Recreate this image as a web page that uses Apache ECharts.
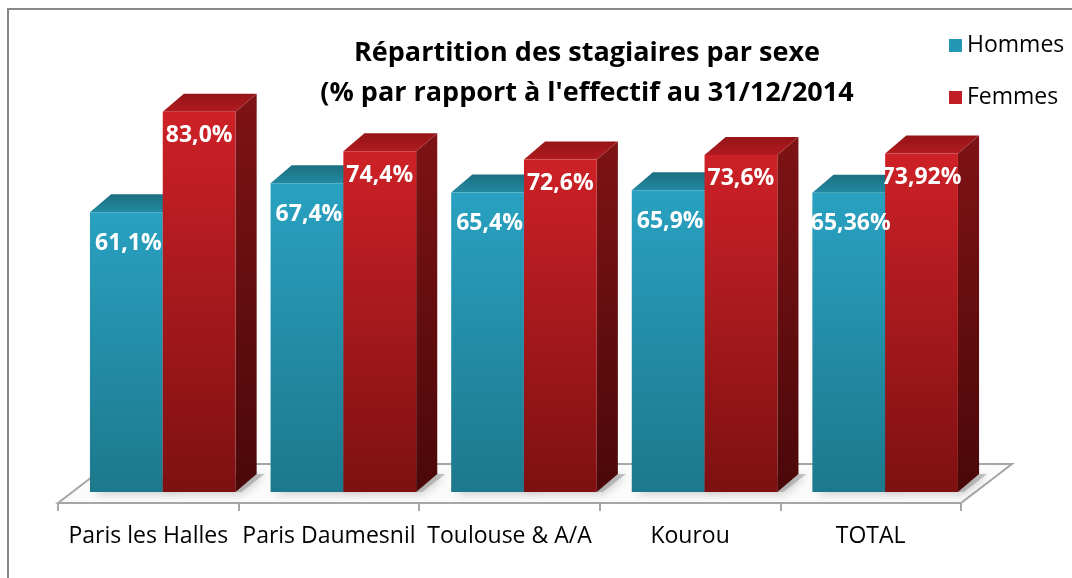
<!DOCTYPE html>
<html>
<head>
<meta charset="utf-8">
<script src="https://cdn.jsdelivr.net/npm/echarts@6/dist/echarts.min.js"></script>
<style>html,body{margin:0;padding:0;background:#fff;}#c{width:1072px;height:578px;}</style>
</head>
<body>
<div id="c"></div>
<script>
var categories = ['Paris les Halles', 'Paris Daumesnil', 'Toulouse & A/A', 'Kourou', 'TOTAL'];
var hommes = [61.1, 67.4, 65.4, 65.9, 65.36];
var femmes = [83.0, 74.4, 72.6, 73.6, 73.92];
var hommesLabels = ['61,1%', '67,4%', '65,4%', '65,9%', '65,36%'];
var femmesLabels = ['83,0%', '74,4%', '72,6%', '73,6%', '73,92%'];
var titleLines = ['Répartition des stagiaires par sexe', "(% par rapport à l'effectif au 31/12/2014"];

var FONT = '"Open Sans", Lato, sans-serif';

var styles = {
  h: {
    front: new echarts.graphic.LinearGradient(0, 0, 0, 1, [{offset: 0, color: '#29a1c1'}, {offset: 1, color: '#1d788c'}]),
    top: new echarts.graphic.LinearGradient(0, 1, 0, 0, [{offset: 0, color: '#2389a1'}, {offset: 1, color: '#1b6f80'}]),
    side: new echarts.graphic.LinearGradient(0, 0, 0, 1, [{offset: 0, color: '#186a7b'}, {offset: 1, color: '#0f4853'}]),
    labels: hommesLabels, lx0: -0.323, lx1: 0.080, textOff: 31, textDx: 2
  },
  f: {
    front: new echarts.graphic.LinearGradient(0, 0, 0, 1, [{offset: 0, color: '#cd2127'}, {offset: 1, color: '#7d1012'}]),
    top: new echarts.graphic.LinearGradient(0, 1, 0, 0, [{offset: 0, color: '#b01b1f'}, {offset: 1, color: '#951417'}]),
    side: new echarts.graphic.LinearGradient(0, 0, 0, 1, [{offset: 0, color: '#7e1315'}, {offset: 1, color: '#4a0809'}]),
    labels: femmesLabels, lx0: 0.080, lx1: 0.483, textOff: 24, textDx: 0
  }
};

function barRender(kind) {
  var s = styles[kind];
  return function (params, api) {
    var i = api.value(0), v = api.value(1);
    var c = api.coord([i, v]);
    var base = api.coord([i, 0]);
    var W = api.size([1, 0])[0];
    var x0 = c[0] + s.lx0 * W, x1 = c[0] + s.lx1 * W;
    var yt = c[1], yb = base[1];
    var dx = 0.117 * W, dy = 0.0997 * W;
    return {
      type: 'group',
      children: [
        {type: 'polygon', z2: -5, shape: {points: [[x0 + 4, yb], [x1 + 6, yb], [x1 + dx + 8, yb - dy], [x0 + dx, yb - dy]]},
          style: {fill: 'rgba(150,150,150,0.55)', shadowBlur: 10, shadowColor: 'rgba(0,0,0,0.35)', shadowOffsetY: 2}},
        {type: 'polygon', shape: {points: [[x1, yb], [x1 + dx, yb - dy], [x1 + dx, yt - dy], [x1, yt]]}, style: {fill: s.side}},
        {type: 'polygon', shape: {points: [[x0, yt], [x1, yt], [x1 + dx, yt - dy], [x0 + dx, yt - dy]]}, style: {fill: s.top}},
        {type: 'rect', shape: {x: x0, y: yt, width: x1 - x0, height: yb - yt}, style: {fill: s.front}},
        {type: 'text', z2: 100, x: (x0 + x1) / 2 + s.textDx, y: yt + s.textOff,
          style: {text: s.labels[params.dataIndex], fill: '#ffffff', font: 'bold 23px ' + FONT, align: 'center', verticalAlign: 'middle'}}
      ]
    };
  };
}

function floorRender(params, api) {
  var cs = params.coordSys;
  var yf = cs.y + cs.height + 11;
  var xl = cs.x, xr = cs.x + cs.width;
  var dx = 51, dy = 39;
  return {
    type: 'polygon',
    shape: {points: [[xl, yf], [xr, yf], [xr + dx, yf - dy], [xl + dx, yf - dy]]},
    style: {fill: '#fbfbfb', stroke: '#a6a6a6', lineWidth: 2}
  };
}

var chart = echarts.init(document.getElementById('c'), null, {renderer: 'canvas'});
chart.setOption({
  backgroundColor: '#ffffff',
  animation: false,
  title: {
    text: titleLines.join('\n'),
    left: 582, top: 28, textAlign: 'center',
    textStyle: {fontFamily: FONT, fontWeight: 'bold', fontSize: 27, lineHeight: 40, color: '#000'}
  },
  legend: {
    orient: 'vertical', left: 944, top: 29, itemWidth: 13, itemHeight: 13, itemGap: 29,
    icon: 'rect',
    textStyle: {fontFamily: FONT, fontSize: 23, color: '#000'},
    data: ['Hommes', 'Femmes']
  },
  graphic: [{type: 'rect', shape: {x: 8, y: 9, width: 1200, height: 700}, style: {fill: 'none', stroke: '#878787', lineWidth: 2}, z: -10}],
  grid: [
    {left: 58, right: 111, top: 34, bottom: 86},
    {left: 58, right: 111, top: 502, height: 1}
  ],
  xAxis: [
    {type: 'category', gridIndex: 0, data: categories, show: false},
    {type: 'category', gridIndex: 1, data: categories, position: 'bottom',
      axisLine: {lineStyle: {color: '#a6a6a6', width: 2}},
      axisTick: {show: true, length: 8, lineStyle: {color: '#a6a6a6', width: 2}},
      axisLabel: {interval: 0, margin: 22, fontFamily: FONT, fontSize: 23, color: '#000'}}
  ],
  yAxis: [
    {type: 'value', gridIndex: 0, min: 0, max: 100, show: false},
    {type: 'value', gridIndex: 1, show: false}
  ],
  series: [
    {type: 'custom', name: 'floor', xAxisIndex: 0, yAxisIndex: 0, renderItem: floorRender, data: [0], z: 1, silent: true},
    {type: 'custom', name: 'Hommes', xAxisIndex: 0, yAxisIndex: 0, renderItem: barRender('h'), z: 2,
      itemStyle: {color: '#2497b5'}, data: hommes.map(function (v, i) { return [i, v]; })},
    {type: 'custom', name: 'Femmes', xAxisIndex: 0, yAxisIndex: 0, renderItem: barRender('f'), z: 2,
      itemStyle: {color: '#c01e25'}, data: femmes.map(function (v, i) { return [i, v]; })}
  ]
});
</script>
</body>
</html>
